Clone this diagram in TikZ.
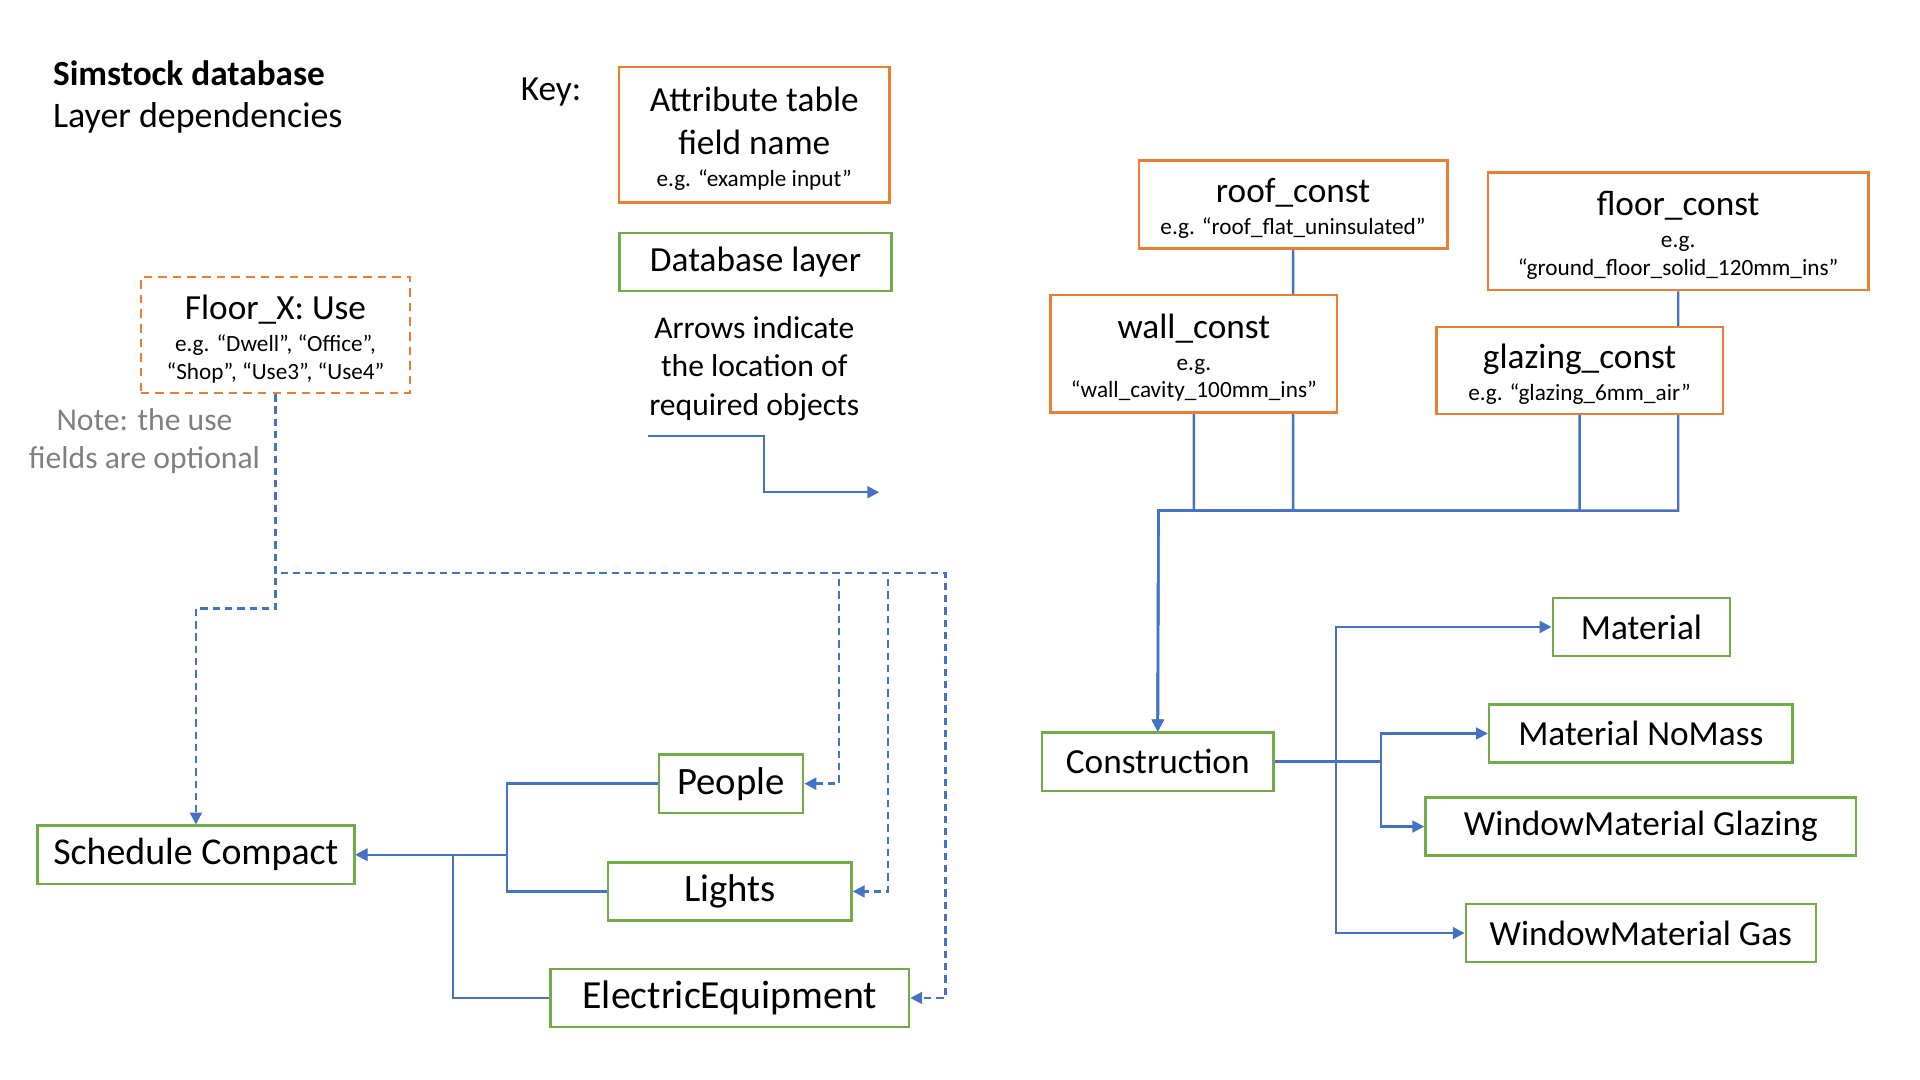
\documentclass[tikz,border=0pt]{standalone}
\usepackage{fontspec}
\setmainfont{Carlito}
\usepackage{tikz}
\usetikzlibrary{arrows.meta, backgrounds}

\definecolor{attrorange}{HTML}{ED7D31}
\definecolor{layergreen}{HTML}{70AD47}
\definecolor{linkblue}{HTML}{4472C4}
\definecolor{notegray}{HTML}{808080}

\newcommand\boxfont{\fontsize{16.4}{19.8}\selectfont}
\newcommand\bigboxfont{\fontsize{18}{21}\selectfont}
\newcommand\egfont{\fontsize{10.8}{13}\selectfont}
\newcommand\notefont{\fontsize{14.7}{17.8}\selectfont}
\newcommand\topstrut{\rule{0pt}{15pt}}

\begin{document}
\begin{tikzpicture}[x=0.02cm, y=-0.02cm,
  attr/.style={draw=attrorange, line width=1.1pt, fill=white, align=center, inner sep=0pt, font=\boxfont},
  layer/.style={draw=layergreen, line width=1.1pt, fill=white, align=center, inner sep=0pt, minimum height=0.95cm, font=\boxfont},
  link/.style={draw=linkblue, line width=1.1pt, -{Triangle[length=5.5pt,width=5.5pt]}},
  optlink/.style={link, dash pattern=on 3.4pt off 2.3pt}]
\useasboundingbox (0,0) rectangle (1568,882);

% title and key
\node at (43,60) [anchor=west, inner sep=0pt, font=\boxfont\bfseries](title){Simstock database};
\node at (43,96) [anchor=west, inner sep=0pt, font=\fontsize{16.7}{20}\selectfont](subtitle){Layer dependencies};
\node at (450,75) [font=\boxfont](keylabel){Key:};
\node at (616,110) [attr, minimum width=4.42cm, minimum height=2.22cm](keyattr){\topstrut Attribute table\\field name\\[-5pt]{\egfont e.g. “example input”}};
\node at (617,214) [layer, minimum width=4.44cm](keylayer){Database layer};
\node at (616,301) [align=center, font=\notefont](keytext){Arrows indicate\\the location of\\required objects};
\coordinate (keystart) at (529,356);
\coordinate (keyend) at (718,402);
\draw[link] (keystart) -- (624,356) |- (keyend);

% use fields
\node at (225,273.5) [attr, dash pattern=on 4pt off 2.8pt, minimum width=4.40cm, minimum height=1.90cm](floorx){\topstrut Floor\_X: Use\\[-4.8pt]{\egfont e.g. “Dwell”, “Office”,}\\[-7pt]{\egfont “Shop”, “Use3”, “Use4”}};
\node at (118,360) [align=center, font=\notefont, text=notegray](note){Note: the use\\fields are optional};

% schedules
\node at (160,698) [layer, minimum width=5.18cm, font=\fontsize{17.6}{21}\selectfont](sched){Schedule Compact};
\node at (597,640) [layer, minimum width=2.36cm, font=\bigboxfont](people){People};
\node at (596,728) [layer, minimum width=3.98cm, font=\bigboxfont](lights){Lights};
\node at (596,815) [layer, minimum width=5.86cm, font=\fontsize{18.5}{21}\selectfont](equip){ElectricEquipment};

% constructions
\node at (1056,167) [attr, minimum width=5.04cm, minimum height=1.44cm](roof){\topstrut roof\_const\\[-5pt]{\egfont e.g. “roof\_flat\_uninsulated”}};
\node at (1370.5,189) [attr, minimum width=6.22cm, minimum height=1.92cm](floor){\topstrut floor\_const\\[-5pt]{\egfont e.g.}\\[-7pt]{\egfont “ground\_floor\_solid\_120mm\_ins”}};
\node at (975,289) [attr, minimum width=4.68cm, minimum height=1.92cm](wall){\topstrut wall\_const\\[-5pt]{\egfont e.g.}\\[-7pt]{\egfont “wall\_cavity\_100mm\_ins”}};
\node at (1290,302.5) [attr, minimum width=4.68cm, minimum height=1.42cm](glazing){\topstrut glazing\_const\\[-5pt]{\egfont e.g. “glazing\_6mm\_air”}};
\node at (945.5,622) [layer, minimum width=3.78cm](constr){Construction};
\node at (1340.5,512) [layer, minimum width=2.90cm](material){Material};
\node at (1340,599) [layer, minimum width=4.96cm](nomass){Material NoMass};
\node at (1340,675) [layer, minimum width=7.04cm](winglaz){WindowMaterial Glazing};
\node at (1340,762) [layer, minimum width=5.72cm](wingas){WindowMaterial Gas};
\coordinate (constbus) at (946,417);

\begin{scope}[on background layer]
\draw[optlink] (floorx.south) -- (225,497) -| (sched.north);
\draw[optlink] (floorx.south) |- (685,468) |- (people.east);
\draw[optlink] (floorx.south) |- (725,468) |- (lights.east);
\draw[optlink] (floorx.south) |- (772,468) |- (equip.east);
\draw[link] (people.west) -| (414,698) -- (sched.east);
\draw[link] (lights.west) -| (414,698) -- (sched.east);
\draw[link] (equip.west) -| (370,698) -- (sched.east);
\draw[link] (roof.south) |- (constbus) -- (constr.north);
\draw[link] (wall.south) |- (constbus) -- (constr.north);
\draw[link] (glazing.south) |- (constbus) -- (constr.north);
\draw[link] (floor.south) |- (constbus) -- (constr.north);
\draw[link] (constr.east) -- (1091,622) |- (material.west);
\draw[link] (constr.east) -- (1091,622) |- (wingas.west);
\draw[link] (constr.east) -- (1128,622) |- (nomass.west);
\draw[link] (constr.east) -- (1128,622) |- (winglaz.west);
\end{scope}
\end{tikzpicture}
\end{document}
